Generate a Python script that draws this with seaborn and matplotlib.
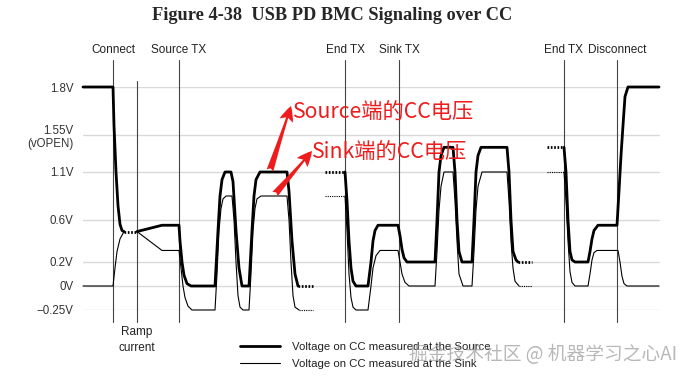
import numpy as np
import matplotlib
matplotlib.use("Agg")
import matplotlib.pyplot as plt
import seaborn as sns

sns.set_style("white")
plt.rcParams['font.family'] = ['Liberation Sans', 'DejaVu Sans']

# ---------------- data ----------------
# y axis levels (non-uniform spacing as in the figure)
level_volts = [-0.25, 0.0, 0.2, 0.6, 1.1, 1.55, 1.8]
level_pos = [0, 24, 48, 90, 138, 175, 223]
level_labels = ["\u22120.25V", "0V", "0.2V", "0.6V", "1.1V", "1.55V\n(vOPEN)", "1.8V"]

# events (time positions) and labels
event_t = [113, 179, 345, 399, 564, 617]
event_labels = ["Connect", "Source TX", "End TX", "Sink TX", "End TX", "Disconnect"]
ramp_t = 137

# Source voltage (thick) – solid segments
src1_t = [83, 113, 114, 116, 118, 120, 122, 124]
src1_v = [1.8, 1.8, 1.6, 1.1, 0.75, 0.56, 0.5, 0.49]
src2_t = [137, 162, 179, 180, 182, 184, 187, 191, 215, 218, 220, 222, 225, 231, 233, 236, 239, 242,
          249, 252, 254, 256, 260, 287, 289, 292, 295, 298]
src2_v = [0.49, 0.55, 0.55, 0.4, 0.2, 0.09, 0.02, 0.0, 0.0, 0.5, 0.85, 1.02, 1.1, 1.1, 1.0, 0.5, 0.15, 0.0,
          0.0, 0.5, 0.85, 1.02, 1.1, 1.1, 0.9, 0.4, 0.1, 0.0]
src3_t = [345, 347, 349, 351, 353, 356, 368, 371, 373, 375, 378, 398, 400, 402, 404, 407, 435, 437, 439,
          441, 444, 453, 455, 457, 459, 462, 472, 474, 476, 478, 481, 507, 509, 511, 513, 516, 518]
src3_v = [1.1, 0.8, 0.4, 0.15, 0.04, 0.0, 0.0, 0.2, 0.4, 0.5, 0.55, 0.55, 0.45, 0.32, 0.24, 0.2, 0.2, 0.6, 1.1,
          1.3, 1.4, 1.4, 1.1, 0.6, 0.3, 0.2, 0.2, 0.6, 1.1, 1.3, 1.4, 1.4, 1.1, 0.6, 0.3, 0.22, 0.2]
src4_t = [564, 566, 568, 570, 572, 575, 588, 590, 592, 594, 598, 617, 619, 621, 623, 625, 628, 659]
src4_v = [1.4, 1.1, 0.6, 0.3, 0.22, 0.2, 0.2, 0.3, 0.42, 0.5, 0.55, 0.55, 0.9, 1.3, 1.6, 1.75, 1.8, 1.8]
# Source dotted (continuation) segments
src_dot_t = [[124, 137], [298, 313], [325, 345], [518, 532], [547, 564]]
src_dot_v = [[0.49, 0.49], [0.0, 0.0], [1.1, 1.1], [0.2, 0.2], [1.4, 1.4]]

# Sink voltage (thin) – solid segments
snk1_t = [83, 113, 115, 117, 120, 124]
snk1_v = [0.0, 0.0, 0.15, 0.3, 0.42, 0.49]
snk2_t = [137, 162, 179, 181, 183, 185, 188, 192, 215, 217, 219, 221, 223, 226, 232, 234, 236, 238, 240, 243,
          249, 251, 253, 255, 257, 261, 287, 289, 291, 293, 295, 299]
snk2_v = [0.49, 0.31, 0.31, 0.15, 0.0, -0.12, -0.21, -0.25, -0.25, 0.1, 0.5, 0.72, 0.82, 0.85, 0.85, 0.6, 0.2,
          -0.1, -0.22, -0.25, -0.25, 0.1, 0.5, 0.72, 0.82, 0.85, 0.85, 0.6, 0.2, -0.1, -0.22, -0.25]
snk3_t = [345, 347, 349, 351, 353, 356, 368, 371, 373, 376, 380, 398, 400, 402, 405, 409, 435, 437, 439, 441,
          444, 453, 455, 457, 459, 463, 472, 474, 476, 478, 482, 507, 509, 511, 513, 515, 519]
snk3_v = [0.85, 0.5, 0.1, -0.12, -0.22, -0.25, -0.25, 0.0, 0.15, 0.26, 0.31, 0.31, 0.2, 0.1, 0.03, 0.0, 0.0,
          0.3, 0.7, 0.95, 1.1, 1.1, 0.8, 0.4, 0.1, 0.0, 0.0, 0.3, 0.7, 0.95, 1.1, 1.1, 0.8, 0.4, 0.15, 0.04, 0.0]
snk4_t = [564, 566, 568, 570, 572, 575, 588, 590, 592, 594, 597, 618, 620, 622, 624, 627, 659]
snk4_v = [1.1, 0.8, 0.4, 0.12, 0.03, 0.0, 0.0, 0.1, 0.22, 0.29, 0.31, 0.31, 0.2, 0.08, 0.02, 0.0, 0.0]
snk_dot_t = [[299, 313], [325, 345], [519, 532], [547, 564]]
snk_dot_v = [[-0.25, -0.25], [0.85, 0.85], [0.0, 0.0], [1.1, 1.1]]

title = "Figure 4-38  USB PD BMC Signaling over CC"
legend_labels = ["Voltage on CC measured at the Source", "Voltage on CC measured at the Sink"]
note_src = "Source端的CC电压"
note_snk = "Sink端的CC电压"
watermark = "掘金技术社区 @ 机器学习之心AI"

# ---------------- scale ----------------
def fwd(v):
    v = np.asarray(v, dtype=float)
    out = np.interp(v, level_volts, level_pos)
    out = np.where(v < level_volts[0], level_pos[0] + (v - level_volts[0]) * 96.0, out)
    out = np.where(v > level_volts[-1], level_pos[-1] + (v - level_volts[-1]) * 192.0, out)
    return out

def inv(p):
    p = np.asarray(p, dtype=float)
    out = np.interp(p, level_pos, level_volts)
    out = np.where(p < level_pos[0], level_volts[0] + (p - level_pos[0]) / 96.0, out)
    out = np.where(p > level_pos[-1], level_volts[-1] + (p - level_pos[-1]) / 192.0, out)
    return out

W, H = 689, 377
fig = plt.figure(figsize=(W / 100, H / 100), dpi=100)
ax = fig.add_axes([83 / W, 1 - 310 / H, (660 - 83) / W, 223 / H])
ax.set_yscale('function', functions=(fwd, inv))
ax.set_xlim(83, 660)
ax.set_ylim(-0.25, 1.8)

ax.set_yticks(level_volts)
ax.set_yticklabels(level_labels, fontsize=8.3, color='#333333')
ax.tick_params(axis='y', length=0, pad=7)
ax.set_xticks([])
ax.yaxis.grid(True, color='#d9d9d9', lw=1.0)
ax.set_axisbelow(True)
for s in ax.spines.values():
    s.set_visible(False)

SRC_LW, SNK_LW = 2.0, 0.8

# vertical event lines
ybot = (310 - 322) / 223
ytop = (310 - 60) / 223
for t in event_t:
    ax.axvline(t, ymin=ybot, ymax=ytop, color='#444444', lw=0.8, clip_on=False, zorder=1)
ax.axvline(ramp_t, ymin=ybot, ymax=(310 - 81) / 223, color='#444444', lw=0.8, clip_on=False, zorder=1)

# waveforms
first = True
for tt, vv in [(snk1_t, snk1_v), (snk2_t, snk2_v), (snk3_t, snk3_v), (snk4_t, snk4_v)]:
    sns.lineplot(x=tt, y=vv, ax=ax, sort=False, estimator=None, color='black', lw=SNK_LW,
                 label=legend_labels[1] if first else None, legend=False, zorder=3)
    first = False
for tt, vv in zip(snk_dot_t, snk_dot_v):
    sns.lineplot(x=tt, y=vv, ax=ax, sort=False, estimator=None, color='black', lw=SNK_LW,
                 linestyle=(0, (1, 1)), legend=False, zorder=3)
first = True
for tt, vv in [(src1_t, src1_v), (src2_t, src2_v), (src3_t, src3_v), (src4_t, src4_v)]:
    sns.lineplot(x=tt, y=vv, ax=ax, sort=False, estimator=None, color='black', lw=SRC_LW,
                 label=legend_labels[0] if first else None, legend=False, zorder=4)
    first = False
for tt, vv in zip(src_dot_t, src_dot_v):
    sns.lineplot(x=tt, y=vv, ax=ax, sort=False, estimator=None, color='black', lw=SRC_LW,
                 linestyle=(0, (0.6, 0.6)), legend=False, zorder=4)
for ln in ax.lines:
    ln.set_clip_on(False)
    ln.set_solid_joinstyle('round')

# event labels
xt = ax.get_xaxis_transform()
for t, lab in zip(event_t, event_labels):
    ax.text(t, (310 - 50) / 223, lab, transform=xt, ha='center', va='center', fontsize=8.5, color='#222222')
ax.text(ramp_t, (310 - 340) / 223, "Ramp\ncurrent", transform=xt, ha='center', va='center',
        fontsize=8.5, color='#222222', linespacing=1.35)

# title
fig.text(332 / W, 1 - 15 / H, title, ha='center', va='center', fontsize=13.2, fontweight='bold',
         family='Liberation Serif')

# legend
h, l = ax.get_legend_handles_labels()
order = [l.index(legend_labels[0]), l.index(legend_labels[1])]
leg = ax.legend([h[i] for i in order], [l[i] for i in order], loc='upper left',
                bbox_to_anchor=(240 / W, 1 - 342 / H), bbox_transform=fig.transFigure,
                frameon=False, fontsize=8.2, handlelength=3.5, handletextpad=1.1,
                borderpad=0, borderaxespad=0, labelspacing=0.62)
for txt in leg.get_texts():
    txt.set_color('#222222')

# red annotations
red = '#ee1c1c'
cjk = ['Noto Sans CJK SC', 'DejaVu Sans']
ax.annotate('', xy=(291, (310 - 106) / 223), xycoords=('data', 'axes fraction'),
            xytext=(270, 1.12), textcoords='data',
            arrowprops=dict(arrowstyle='fancy,head_length=1.1,head_width=1.0,tail_width=0.5',
                            color=red, lw=0, shrinkA=0, shrinkB=0), zorder=6)
ax.annotate('', xy=(312, (310 - 151) / 223), xycoords=('data', 'axes fraction'),
            xytext=(275, 0.87), textcoords='data',
            arrowprops=dict(arrowstyle='fancy,head_length=1.1,head_width=1.0,tail_width=0.5',
                            color=red, lw=0, shrinkA=0, shrinkB=0), zorder=6)
ax.text(293, (310 - 113) / 223, note_src, transform=xt, ha='left', va='center', fontsize=15.3,
        color=red, family=cjk, zorder=6)
ax.text(312, (310 - 153) / 223, note_snk, transform=xt, ha='left', va='center', fontsize=15.3,
        color=red, family=cjk, zorder=6)

# watermark
fig.text(409 / W, 1 - 354 / H, watermark, ha='left', va='center', fontsize=13.5,
         color='#9a9a9a', alpha=0.7, family=cjk)

fig.savefig("out.png", dpi=100)
